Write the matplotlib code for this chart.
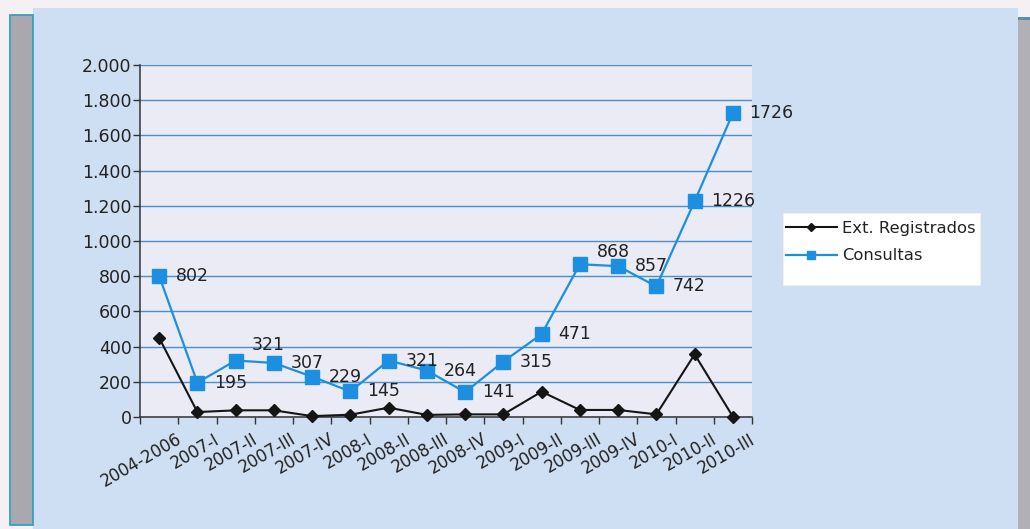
import matplotlib
matplotlib.use("Agg")
import matplotlib.pyplot as plt
from matplotlib.patches import Rectangle
from matplotlib.lines import Line2D
from matplotlib.ticker import FuncFormatter, FixedLocator
from matplotlib.transforms import ScaledTranslation

# Periods and series
periodos = ["2004-2006", "2007-I", "2007-II", "2007-III", "2007-IV",
            "2008-I", "2008-II", "2008-III", "2008-IV",
            "2009-I", "2009-II", "2009-III", "2009-IV",
            "2010-I", "2010-II", "2010-III"]
ext_registrados = [450, 28, 38, 38, 5, 13, 53, 12, 15, 15, 144, 40, 40, 15, 356, 2]
consultas = [802, 195, 321, 307, 229, 145, 321, 264, 141, 315, 471, 868, 857,
             742, 1226, 1726]
y_ticks = [0, 200, 400, 600, 800, 1000, 1200, 1400, 1600, 1800, 2000]

BLUE = "#1c8fe0"
DARK = "#151515"
TEXT = "#222222"

W, H = 1030, 529
fig = plt.figure(figsize=(W / 100, H / 100), dpi=100, facecolor="#f5f0f3")
plt.rcParams["font.family"] = ["DejaVu Sans"]


def fx(px):
    return px / W


def fy(py):
    return 1 - py / H


def frect(x0, y0, x1, y1, **kw):
    fig.patches.append(Rectangle((fx(x0), fy(y1)), fx(x1) - fx(x0), fy(y0) - fy(y1),
                                 transform=fig.transFigure, **kw))


# background panel and side bars
frect(33, 8, 1018, 529, facecolor="#cfdff3", edgecolor="none", zorder=0)
frect(10, 15, 33, 525, facecolor="#a9a8ae", edgecolor="#3a9fbd", linewidth=1.3, zorder=1)
frect(1018, 18, 1030, 529, facecolor="#b0b0b6", edgecolor="none", zorder=1)
frect(1018, 17, 1030, 20, facecolor="#5a8fb4", edgecolor="none", zorder=2)

# plot area
ax = fig.add_axes([fx(140), fy(417), fx(752) - fx(140), fy(65) - fy(417)])
ax.set_zorder(5)
ax.set_facecolor("#eaebf5")

x = list(range(len(periodos)))
ax.plot(x, ext_registrados, color=DARK, lw=1.5, marker="D", markersize=6.5,
        markerfacecolor=DARK, markeredgecolor=DARK, zorder=3, clip_on=False)
ax.plot(x, consultas, color=BLUE, lw=1.6, marker="s", markersize=9.5,
        markerfacecolor=BLUE, markeredgecolor=BLUE, zorder=4, clip_on=False)

# value labels for Consultas
offsets = {2: (11.5, 11.5), 11: (12.5, 8.5)}
for i, v in enumerate(consultas):
    dx, dy = offsets.get(i, (12, 0))
    ax.annotate(str(v), (i, v), xytext=(dx, dy), textcoords="offset points",
                ha="left", va="center", fontsize=12.5, color=TEXT, zorder=5,
                annotation_clip=False)

ax.set_xlim(-0.5, len(periodos) - 0.5)
ax.set_ylim(0, 2000)

for side in ("top", "right"):
    ax.spines[side].set_visible(False)
for side in ("left", "bottom"):
    ax.spines[side].set_color("#333333")
    ax.spines[side].set_linewidth(1.1)

ax.yaxis.set_major_locator(FixedLocator(y_ticks))
ax.yaxis.set_major_formatter(FuncFormatter(lambda v, _: f"{int(v):,}".replace(",", ".")))
ax.yaxis.grid(True, color="#4a8fd0", lw=1.0)
ax.set_axisbelow(True)
ax.tick_params(axis="y", length=5, width=1, color="#333333", labelsize=12.5,
               labelcolor=TEXT, pad=1)

ax.set_xticks(x)
ax.set_xticklabels(periodos)
ax.set_xticks([i - 0.5 for i in range(len(periodos) + 1)], minor=True)
ax.tick_params(axis="x", which="major", length=0, pad=15, labelsize=12,
               labelcolor=TEXT)
ax.tick_params(axis="x", which="minor", length=5, width=1, color="#333333")
shift = ScaledTranslation(0.21, 0, fig.dpi_scale_trans)
for lab in ax.get_xticklabels():
    lab.set_rotation(30)
    lab.set_ha("right")
    lab.set_va("center")
    lab.set_rotation_mode("anchor")
    lab.set_transform(lab.get_transform() + shift)

# legend box
frect(783, 213, 980, 285, facecolor="white", edgecolor="#f0f0f0", linewidth=0.8, zorder=2)
handles = [
    Line2D([], [], color=DARK, lw=1.5, marker="D", markersize=4.5),
    Line2D([], [], color=BLUE, lw=1.6, marker="s", markersize=6),
]
leg = fig.legend(handles, ["Ext. Registrados", "Consultas"],
                 loc="upper left", bbox_to_anchor=(fx(786), fy(221)),
                 bbox_transform=fig.transFigure, frameon=False,
                 handlelength=3.1, handletextpad=0.3, labelspacing=0.75,
                 borderpad=0, borderaxespad=0, fontsize=11.8)
leg.set_zorder(3)
for t in leg.get_texts():
    t.set_color(TEXT)

fig.savefig("out.png", dpi=100, facecolor=fig.get_facecolor())
